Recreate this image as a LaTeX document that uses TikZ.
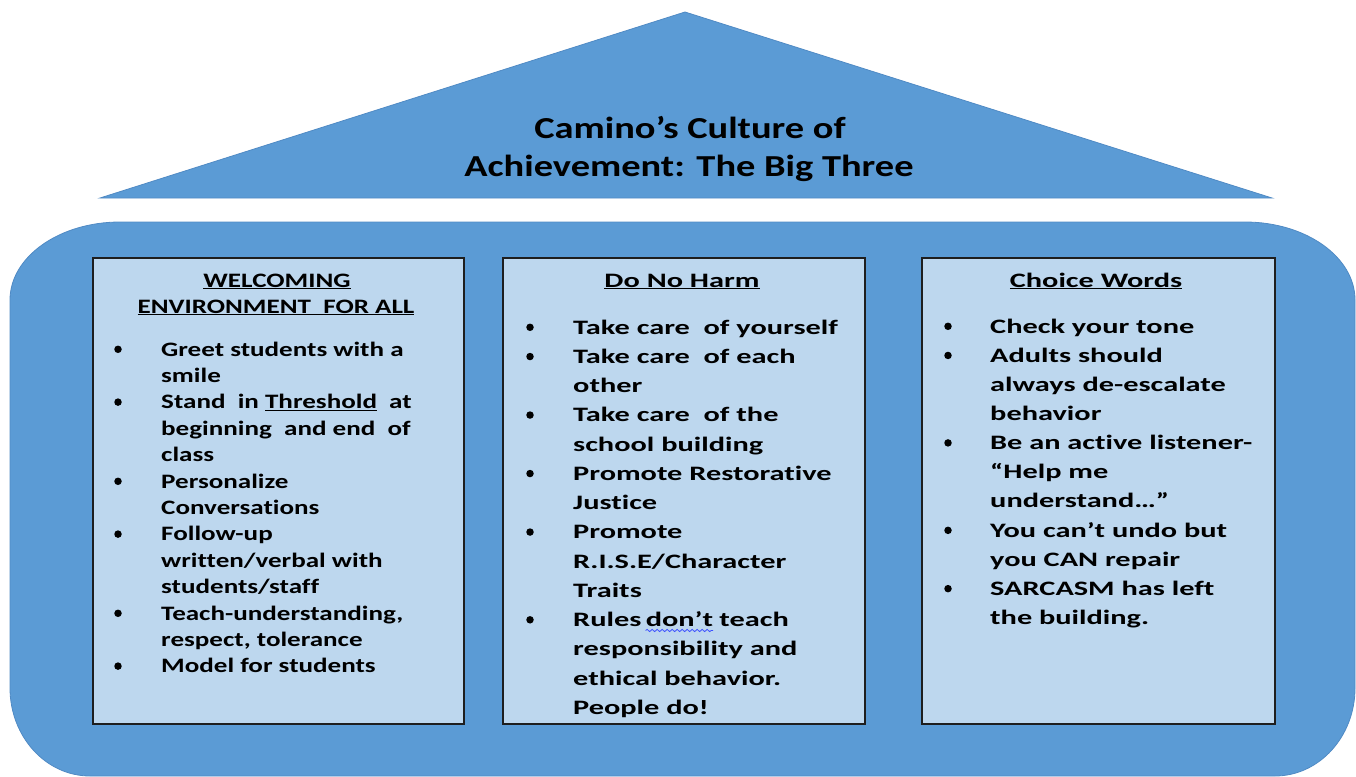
\documentclass[tikz,border=0pt]{standalone}
\usepackage{fontspec}
\setmainfont{Carlito}[Ligatures=NoCommon]
\newfontfamily\titlefont{Carlito}[FakeStretch=1.26, Ligatures=NoCommon]
\newfontfamily\leftfont{Carlito}[FakeStretch=1.32, Ligatures=NoCommon]
\newfontfamily\widefont{Carlito}[FakeStretch=1.48, Ligatures=NoCommon]
\usetikzlibrary{decorations.pathmorphing}
\definecolor{houseblue}{RGB}{91,155,213}
\definecolor{houseedge}{RGB}{80,138,196}
\definecolor{boxfill}{RGB}{189,215,238}
\definecolor{boxedge}{RGB}{30,30,30}
\definecolor{wavyblue}{RGB}{60,80,255}
\tikzset{
  housepart/.style={fill=houseblue, draw=houseedge, line width=0.8pt},
  colbox/.style={fill=boxfill, draw=boxedge, line width=1.6pt},
  titletext/.style={anchor=base, inner sep=0pt, font=\titlefont\fontsize{30.5}{36}\selectfont\bfseries},
  headL/.style={anchor=base, inner sep=0pt, font=\leftfont\fontsize{20.5}{25}\selectfont\bfseries},
  headW/.style={anchor=base, inner sep=0pt, font=\widefont\fontsize{20.5}{25}\selectfont\bfseries},
  itemL/.style={anchor=base west, inner sep=0pt, font=\leftfont\fontsize{20.5}{25}\selectfont\bfseries},
  itemW/.style={anchor=base west, inner sep=0pt, font=\widefont\fontsize{20.5}{25}\selectfont\bfseries},
  bulletdot/.style={circle, fill=black, inner sep=0pt, minimum size=7.5pt},
}
\begin{document}
\begin{tikzpicture}[x=1pt,y=-1pt]
\useasboundingbox (0,0) rectangle (1356,776);
% roof
\path[housepart] (100,198) coordinate (roofL) -- (685,12) coordinate (apex) -- (1272,198) coordinate (roofR) -- cycle;
% body
\path[housepart] (120,222) -- (1245,222)
  .. controls (1305.75,222) and (1355,256.92) .. (1355,300) -- (1355,688)
  .. controls (1355,736.6) and (1319.18,776) .. (1275,776) -- (90,776)
  .. controls (45.82,776) and (10,736.6) .. (10,688) -- (10,300)
  .. controls (10,256.92) and (59.25,222) .. (120,222) -- cycle;
% title
\node[titletext] (title1) at (690,138) {Camino’s Culture of};
\node[titletext] (title2) at (689,176) {Achievement: The Big Three};
% boxes
\path[colbox] (93,258) rectangle (464,724);
\path[colbox] (503,258) rectangle (865,724);
\path[colbox] (922,258) rectangle (1275,724);
% headers
\node[headL] (hL1) at (277,287) {\underline{WELCOMING}};
\node[headL] (hL2) at (276,313) {\underline{ENVIRONMENT\ \ FOR ALL}};
\node[headW] (hM) at (682,287) {\underline{Do No Harm}};
\node[headW] (hR) at (1096,287) {\underline{Choice Words}};
% left column
\foreach \t [count=\i from 0] in {Greet students with a, smile, Stand\ \ in \underline{Threshold}\ \ at, beginning\ \ and end\ \ of, class, Personalize, Conversations, Follow-up, written/verbal with, students/staff, {Teach-understanding,}, {respect, tolerance}, Model for students}
  \node[itemL] (L\i) at (161,{356+26.4*\i}) {\t};
\foreach \i in {0,2,5,7,10,12}
  \node[bulletdot] (bL\i) at (118,{349.3+26.4*\i}) {};
% middle column
\foreach \t [count=\i from 0] in {Take care\ \ of yourself, Take care\ \ of each, other, Take care\ \ of the, school building, Promote Restorative, Justice, Promote, R.I.S.E/Character, Traits, {}, responsibility and, ethical behavior., People do!}
  \node[itemW] (M\i) at (573,{334+29.25*\i}) {\t};
\node[itemW] (rules) at (573,{334+29.25*10}) {Rules};
\node[itemW] (dont) at ([xshift=4pt]rules.base east) {don’t};
\node[itemW] (teach) at ([xshift=6pt]dont.base east) {teach};
\draw[wavyblue, line width=0.8pt, decorate, decoration={snake, amplitude=1.1pt, segment length=5pt}]
  ([yshift=-4pt]dont.base west) -- ([yshift=-4pt]dont.base east);
\foreach \i in {0,1,3,5,7,10}
  \node[bulletdot] (bM\i) at (530,{327.3+29.25*\i}) {};
% right column
\foreach \t [count=\i from 0] in {Check your tone, Adults should, always de-escalate, behavior, Be an active listener-, “Help me, understand…”, You can’t undo but, you CAN repair, SARCASM has left, the building.}
  \node[itemW] (R\i) at (990,{333+29.15*\i}) {\t};
\foreach \i in {0,1,4,7,9}
  \node[bulletdot] (bR\i) at (948,{326.3+29.15*\i}) {};
\end{tikzpicture}
\end{document}
